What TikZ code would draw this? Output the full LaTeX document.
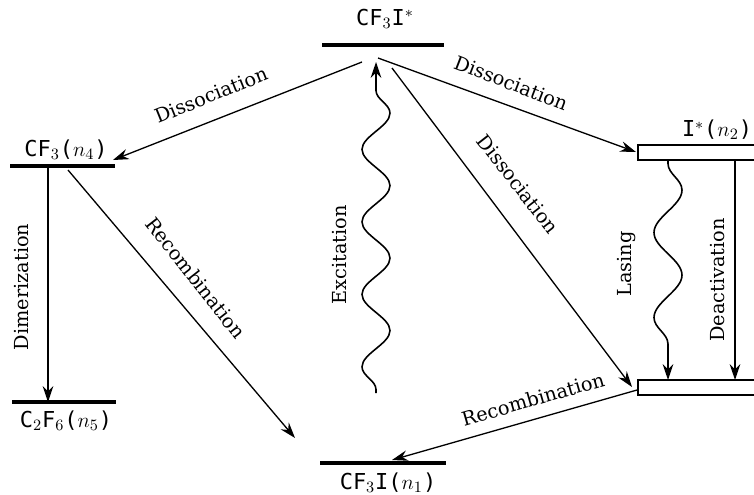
\documentclass[tikz,border=0pt]{standalone}
\usepackage{fontspec}
\setmainfont{DejaVu Serif}
\newfontfamily\lvlfont{DejaVu Sans Mono}
\usetikzlibrary{arrows.meta,decorations.pathmorphing}

\tikzset{
  level/.style={line width=2.4pt},
  lvlbox/.style={line width=1.6pt},
  trans/.style={line width=0.75pt,-{Stealth[length=9pt,width=6pt,inset=3pt]}},
  wave/.style={line width=0.9pt,-{Stealth[length=9pt,width=6pt,inset=3pt]},decorate,
    decoration={snake,segment length=#1,amplitude=0.28cm,pre length=2pt,post length=8pt}},
  lbl/.style={font=\fontsize{11}{13}\selectfont,inner sep=0pt},
  lvlname/.style={font=\lvlfont\fontsize{12.5}{14}\selectfont,inner sep=0pt}
}

\begin{document}
\begin{tikzpicture}[x=0.02cm,y=-0.02cm]
  \useasboundingbox (0,0) rectangle (754,494);

  % energy levels
  \draw[level] (322,45) -- (444,45);
  \draw[level] (10,166) -- (115,166);
  \draw[level] (12,402) -- (116,402);
  \draw[level] (320,463) -- (446,463);
  \draw[lvlbox] (638,145) rectangle (770,160);
  \draw[lvlbox] (638,380) rectangle (770,395);

  \node[lvlname] (cfi) at (385,19) {CF$_3$I$^*$};
  \node[lvlname] (cf) at (66,150) {CF$_3$($n_4$)};
  \node[lvlname] (cff) at (66,421) {C$_2$F$_6$($n_5$)};
  \node[lvlname] (cfig) at (388,483) {CF$_3$I($n_1$)};
  \node[lvlname] (istar) at (717,130) {I$^*$($n_2$)};

  % arrow ends
  \coordinate (dl0) at (362,62);   \coordinate (dl1) at (113,160);
  \coordinate (dr0) at (378,58);   \coordinate (dr1) at (636,152);
  \coordinate (dd0) at (392,68);   \coordinate (dd1) at (632,387);
  \coordinate (rl0) at (68,170);   \coordinate (rl1) at (295,438);
  \coordinate (rb0) at (637,390);  \coordinate (rb1) at (392,460);
  \coordinate (dm0) at (48,168);   \coordinate (dm1) at (48,402);
  \coordinate (da0) at (735,160);  \coordinate (da1) at (735,380);
  \coordinate (ex0) at (376,393);  \coordinate (ex1) at (376,62);
  \coordinate (la0) at (668,160);  \coordinate (la1) at (668,380);

  \draw[trans] (dl0) -- (dl1);
  \draw[trans] (dr0) -- (dr1);
  \draw[trans] (dd0) -- (dd1);
  \draw[trans] (rl0) -- (rl1);
  \draw[trans] (rb0) -- (rb1);
  \draw[trans] (dm0) -- (dm1);
  \draw[trans] (da0) -- (da1);
  \draw[wave=1.45cm] (ex0) -- (ex1);
  \draw[wave=1.7cm] (la0) -- (la1);

  % labels
  \node[lbl,rotate=22] (t1) at (211,95) {Dissociation};
  \node[lbl,rotate=-21] (t2) at (511,83) {Dissociation};
  \node[lbl,rotate=-52] (t3) at (518,184) {Dissociation};
  \node[lbl,rotate=-52] (t4) at (196,278) {Recombination};
  \node[lbl,rotate=16] (t5) at (533,399) {Recombination};
  \node[lbl,rotate=90] (t6) at (340,255) {Excitation};
  \node[lbl,rotate=90] (t7) at (627,264) {Lasing};
  \node[lbl,rotate=90] (t8) at (718,280) {Deactivation};
  \node[lbl,rotate=90] (t9) at (22,287) {Dimerization};
\end{tikzpicture}
\end{document}
